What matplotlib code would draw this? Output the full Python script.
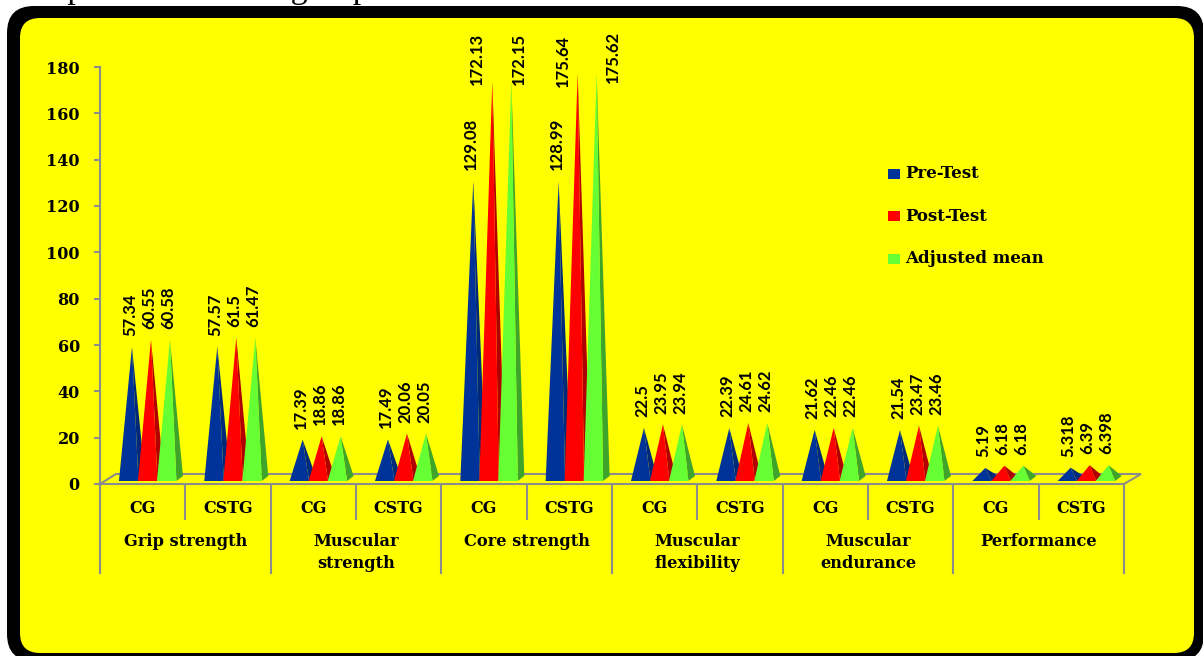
import matplotlib
matplotlib.use("Agg")
import matplotlib.pyplot as plt
from matplotlib.patches import FancyBboxPatch, Polygon, Rectangle

W, H = 1203, 656

skills = ["Grip strength", "Muscular\nstrength", "Core strength",
          "Muscular\nflexibility", "Muscular\nendurance", "Performance"]
groups = ["CG", "CSTG"]
series_names = ["Pre-Test", "Post-Test", "Adjusted mean"]
pre_test = [57.34, 57.57, 17.39, 17.49, 129.08, 128.99, 22.5, 22.39, 21.62, 21.54, 5.19, 5.318]
post_test = [60.55, 61.5, 18.86, 20.06, 172.13, 175.64, 23.95, 24.61, 22.46, 23.47, 6.18, 6.39]
adjusted = [60.58, 61.47, 18.86, 20.05, 172.15, 175.62, 23.94, 24.62, 22.46, 23.46, 6.18, 6.398]
y_ticks = list(range(0, 181, 20))

front_colors = ["#003399", "#ff0000", "#66ff33"]
side_colors = ["#00297a", "#b00000", "#3fa52a"]
GRAY = "#8c8c8c"
SERIF = "DejaVu Serif"
NARROW = ["Liberation Sans Narrow", "Lato"]

# px sizes of the plot box, used for the fake 3d offsets
AX_L, AX_R, AX_T, AX_B = 100, 1124, 67, 484
px_x = 12 / (AX_R - AX_L)
px_y = 180 / (AX_B - AX_T)

fig = plt.figure(figsize=(W / 100, H / 100), dpi=100, facecolor="white")

# frame
bg = fig.add_axes([0, 0, 1, 1], zorder=0)
bg.set_xlim(0, W)
bg.set_ylim(H, 0)
bg.axis("off")

# the line of document text cut off by the top of the page
bg.text(9, -2, "compared to control group", family="Liberation Serif", fontsize=24.5,
        va="baseline", ha="left", color="black", clip_on=False)

bg.add_patch(FancyBboxPatch((7, 6), 1197, 655, boxstyle="round,pad=0,rounding_size=27",
                            fc="black", ec="none", zorder=2))
bg.add_patch(FancyBboxPatch((20, 18), 1174, 635, boxstyle="round,pad=0,rounding_size=20",
                            fc="#ffff00", ec="none", zorder=3))

ax = fig.add_axes([AX_L / W, 1 - AX_B / H, (AX_R - AX_L) / W, (AX_B - AX_T) / H], zorder=1)
ax.set_xlim(0, 12)
ax.set_ylim(0, 180)
ax.patch.set_alpha(0)
for s in ["top", "right", "bottom"]:
    ax.spines[s].set_visible(False)
ax.spines["left"].set_color(GRAY)
ax.spines["left"].set_linewidth(1.5)
ax.set_xticks([])
ax.set_yticks(y_ticks)
ax.tick_params(axis="y", length=4.5, width=1.5, color=GRAY, pad=10)
for t in ax.get_yticklabels():
    t.set_fontfamily(SERIF)
    t.set_fontweight("bold")
    t.set_fontsize(11.5)

# floor of the 3d box
ax.plot([0, 16 * px_x, 12 + 17 * px_x, 12, 0],
        [0, 10 * px_y, 10 * px_y, 0, 0],
        color=GRAY, lw=1.5, clip_on=False, zorder=1, solid_joinstyle="miter")

# multi level category axis
for i in range(13):
    drop = 89 if i % 2 == 0 else 35
    ax.plot([i, i], [0, -drop * px_y], color=GRAY, lw=1.5, clip_on=False)
for i in range(12):
    ax.text(i + 0.5, -24.5 * px_y, groups[i % 2], family=SERIF, fontweight="bold", fontsize=11.5,
            ha="center", va="center", clip_on=False)
for k, name in enumerate(skills):
    ax.text(2 * k + 1, -(49 * px_y), name, family=SERIF, fontweight="bold", fontsize=11.7,
            ha="center", va="top", linespacing=1.4, clip_on=False)

# labels placed by hand in the original, offsets in px (dx, gap above the tip)
label_shift = {(4, 1): (-15, -4), (4, 2): (8, -4), (5, 1): (-15, -14), (5, 2): (16, -10)}

all_series = [pre_test, post_test, adjusted]
for j, values in enumerate(all_series):
    for i, v in enumerate(values):
        apex_x = i + 0.5 + (8.3 + (j - 1) * 19) * px_x
        apex_y = v + 4 * px_y
        fl = apex_x - 13 * px_x
        fr = apex_x + 6.5 * px_x
        br = apex_x + 13 * px_x
        base = 3 * px_y
        back = 8 * px_y
        ax.add_patch(Polygon([(fr, base), (br, back), (apex_x, apex_y)], closed=True,
                             fc=side_colors[j], ec="none", zorder=2 + j, clip_on=False))
        ax.add_patch(Polygon([(fl, base), (fr, base), (apex_x, apex_y)], closed=True,
                             fc=front_colors[j], ec="none", zorder=2 + j, clip_on=False))
        dx, gap = label_shift.get((i, j), (-2, 11))
        ax.annotate(str(v), (apex_x, apex_y), xytext=(dx * 0.72, gap * 0.72),
                    textcoords="offset points", rotation=90, ha="center", va="bottom",
                    family=NARROW, fontweight="bold", fontsize=12,
                    annotation_clip=False, zorder=6)

# legend
for j, name in enumerate(series_names):
    row = 174 + j * 42.3
    ax.add_patch(Rectangle(((888 - AX_L) * px_x, (AX_B - row - 5) * px_y), 12 * px_x, 10 * px_y,
                           fc=front_colors[j], ec="none", clip_on=False))
    ax.text((905 - AX_L) * px_x, (AX_B - row) * px_y, name, family=SERIF, fontweight="bold",
            fontsize=12, ha="left", va="center", clip_on=False)

fig.savefig("out.png", dpi=100, facecolor="white")
